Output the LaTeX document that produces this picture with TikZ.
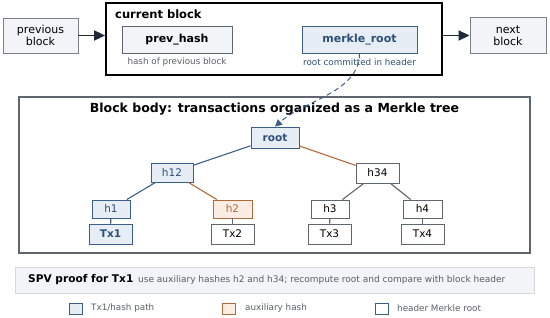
\documentclass[tikz,border=0pt]{standalone}
\usepackage{fontspec}
\setmainfont{DejaVu Sans}
\usetikzlibrary{arrows.meta}
\definecolor{bluebd}{HTML}{3C5F86}
\definecolor{bluefill}{HTML}{E6EDF5}
\definecolor{bluetx}{HTML}{2E4F78}
\definecolor{orbd}{HTML}{B4693A}
\definecolor{orfill}{HTML}{FBEDE3}
\definecolor{graybd}{HTML}{5F6670}
\definecolor{lightbd}{HTML}{7A8088}
\definecolor{softfill}{HTML}{F2F4F7}
\definecolor{spvbd}{HTML}{D5D9DE}
\definecolor{graytx}{HTML}{5A5F66}
\definecolor{darkar}{HTML}{1F2937}
\tikzset{
  box/.style={draw, rectangle, inner sep=0pt, align=center, line width=0.9pt},
  outerblk/.style={box, draw=lightbd, fill=softfill, font=\fontsize{11}{12.5}\selectfont},
  hashnode/.style={box, draw=graybd, fill=white, font=\fontsize{10.5}{12}\selectfont},
  bluenode/.style={hashnode, draw=bluebd, fill=bluefill, text=bluetx},
  ornode/.style={hashnode, draw=orbd, fill=orfill, text=orbd},
  blueedge/.style={draw=bluebd, line width=1.1pt},
  oredge/.style={draw=orbd, line width=1.1pt},
  grayedge/.style={draw=graybd, line width=1.1pt},
  chainarrow/.style={draw=darkar, line width=1.8pt, -{Triangle[length=11pt,width=10pt]}},
  caption/.style={inner sep=0pt, font=\fontsize{8.8}{10}\selectfont},
  legsq/.style={draw, rectangle, inner sep=0pt, minimum width=13pt, minimum height=11pt, line width=0.9pt},
  legtx/.style={inner sep=0pt, anchor=west, font=\fontsize{8.8}{10}\selectfont, text=graytx},
}
\begin{document}
\begin{tikzpicture}[x=1pt,y=-1pt]
\useasboundingbox (0,0) rectangle (550,318);
% chain
\node[outerblk, minimum width=75pt, minimum height=35pt] (prev) at (40.5,35.5) {previous\\block};
\node[outerblk, minimum width=76pt, minimum height=36pt] (next) at (508,35.5) {next\\block};
\node[draw=black, line width=1.8pt, rectangle, inner sep=0pt, minimum width=336pt, minimum height=72pt] (cur) at (274,39) {};
\node[inner sep=0pt, anchor=west, font=\bfseries\fontsize{11.5}{13}\selectfont] (curtitle) at (115,14) {current block};
\node[box, draw=graybd, fill=softfill, minimum width=110pt, minimum height=27pt, font=\bfseries\fontsize{11}{12}\selectfont] (prevhash) at (177,39.5) {prev\_hash};
\node[caption, text=graytx] (prevcap) at (177,62) {hash of previous block};
\node[box, draw=bluebd, fill=bluefill, text=bluetx, minimum width=115pt, minimum height=27pt, font=\bfseries\fontsize{11}{12}\selectfont] (mroot) at (359.5,39.5) {merkle\_root};
\node[caption, text=bluetx] (mcap) at (359.5,62) {root committed in header};
\draw[chainarrow] (prev.east) -- (prev.east -| cur.west);
\draw[chainarrow] (next.west -| cur.east) -- (next.west);
% body
\node[draw=graybd, line width=1.4pt, rectangle, inner sep=0pt, minimum width=511pt, minimum height=156pt] (body) at (274.5,175) {};
\node[inner sep=0pt, font=\bfseries\fontsize{12.5}{14}\selectfont] (bodytitle) at (274.5,109.5) {Block body: transactions organized as a Merkle tree};
% tree
\node[bluenode, minimum width=48pt, minimum height=21pt, font=\bfseries\fontsize{10.5}{12}\selectfont] (root) at (275,137.5) {root};
\node[bluenode, minimum width=42pt, minimum height=19pt] (h12) at (172,172.5) {h12};
\node[hashnode, minimum width=43pt, minimum height=20pt] (h34) at (377.5,173) {h34};
\node[bluenode, minimum width=38pt, minimum height=18pt] (h1) at (111,209) {h1};
\node[ornode, minimum width=39pt, minimum height=18pt] (h2) at (232.5,209) {h2};
\node[hashnode, minimum width=38pt, minimum height=18pt] (h3) at (330,209) {h3};
\node[hashnode, minimum width=39pt, minimum height=18pt] (h4) at (422.5,209) {h4};
\node[bluenode, minimum width=43pt, minimum height=20pt, font=\bfseries\fontsize{10.5}{12}\selectfont] (tx1) at (110.5,234) {Tx1};
\node[hashnode, minimum width=43pt, minimum height=20pt] (tx2) at (232.5,234) {Tx2};
\node[hashnode, minimum width=43pt, minimum height=20pt] (tx3) at (329.5,234) {Tx3};
\node[hashnode, minimum width=43pt, minimum height=20pt] (tx4) at (422.5,234) {Tx4};
\draw[blueedge] (root) -- (h12);
\draw[oredge] (root) -- (h34);
\draw[blueedge] (h12) -- (h1);
\draw[oredge] (h12) -- (h2);
\draw[grayedge] (h34) -- (h3);
\draw[grayedge] (h34) -- (h4);
\draw[blueedge] (h1) -- (tx1);
\draw[grayedge] (h2) -- (tx2);
\draw[grayedge] (h3) -- (tx3);
\draw[grayedge] (h4) -- (tx4);
% dashed commitment
\draw[draw=bluebd, line width=1pt, dash pattern=on 5pt off 3.5pt, -{Triangle[length=7pt,width=7pt]}] (mroot.south) .. controls (359.5,92) and (305,100) .. (root.north);
% SPV
\node[draw=spvbd, fill=softfill, line width=0.9pt, rectangle, inner sep=0pt, minimum width=519pt, minimum height=26pt] (spv) at (274.5,280) {};
\node[inner sep=0pt, anchor=west, font=\bfseries\fontsize{10.6}{12}\selectfont] (spvtitle) at (28,280) {SPV proof for Tx1};
\node[inner sep=0pt, anchor=west, text=graytx, font=\fontsize{9}{10}\selectfont] (spvtext) at (138,280) {use auxiliary hashes h2 and h34; recompute root and compare with block header};
% legend
\node[legsq, draw=bluebd, fill=bluefill] (lg1) at (75.5,308.5) {};
\node[legtx] (lt1) at (91,308.5) {Tx1/hash path};
\node[legsq, draw=orbd, fill=orfill] (lg2) at (229,308.5) {};
\node[legtx] (lt2) at (245,308.5) {auxiliary hash};
\node[legsq, draw=bluebd, fill=white] (lg3) at (381.5,308.5) {};
\node[legtx] (lt3) at (397,308.5) {header Merkle root};
\end{tikzpicture}
\end{document}
